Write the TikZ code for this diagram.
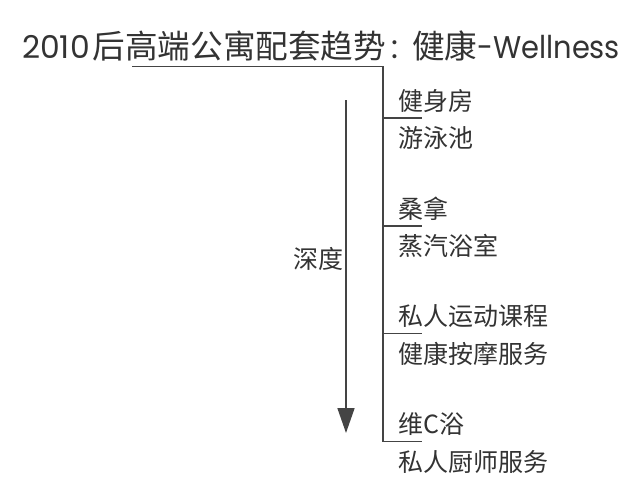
\documentclass[tikz,border=0pt]{standalone}
\usepackage{fontspec}
\usepackage{graphicx}
\setmainfont{Noto Sans CJK SC}
\newfontfamily\lat{Poppins}
\usetikzlibrary{arrows.meta}
\definecolor{txt}{HTML}{333333}
\definecolor{ln}{HTML}{444444}
\begin{document}
\begin{tikzpicture}[x=1pt,y=-1pt,
  item/.style={anchor=west,inner sep=0pt,text=txt,font=\fontsize{25}{25}\selectfont},
  rule/.style={draw=ln,line width=1.6pt},
  ]
\useasboundingbox[fill=white] (0,0) rectangle (640,487);
\node[anchor=west,inner sep=0pt,text=txt,font=\fontsize{32.6}{32.6}\selectfont] (title) at (22,46) {{\lat\fontsize{31.4}{31.4}\selectfont 2010}\hspace{3pt}后高端公寓配套趋势{\lat\hspace{5pt}:\hspace{14pt}}健康{\lat\fontsize{31.4}{31.4}\selectfont\scalebox{0.92}[1]{-Wellness}}};
\coordinate (u0) at (132,66.5);
\coordinate (u1) at (383,66.5);
\coordinate (v1) at (383,441.5);
\draw[rule] (u0) -- (u1) -- (v1);
\foreach \y/\a/\b [count=\i] in {118/健身房/游泳池, 226/桑拿/蒸汽浴室, 333.5/私人运动课程/健康按摩服务, 441.5/维C浴/私人厨师服务}{
  \coordinate (t\i) at (383,\y);
  \coordinate (e\i) at (422,\y);
  \draw[rule] (t\i) -- (e\i);
  \node[item] (a\i) at (398,\y-17) {\a};
  \node[item] (b\i) at (398,\y+20) {\b};
}
\coordinate (s0) at (346,100);
\coordinate (s1) at (346,433);
\draw[rule,-{Triangle[length=25pt,width=17pt]}] (s0) -- (s1);
\node[item,anchor=center] (depth) at (318,259) {深度};
\end{tikzpicture}
\end{document}
